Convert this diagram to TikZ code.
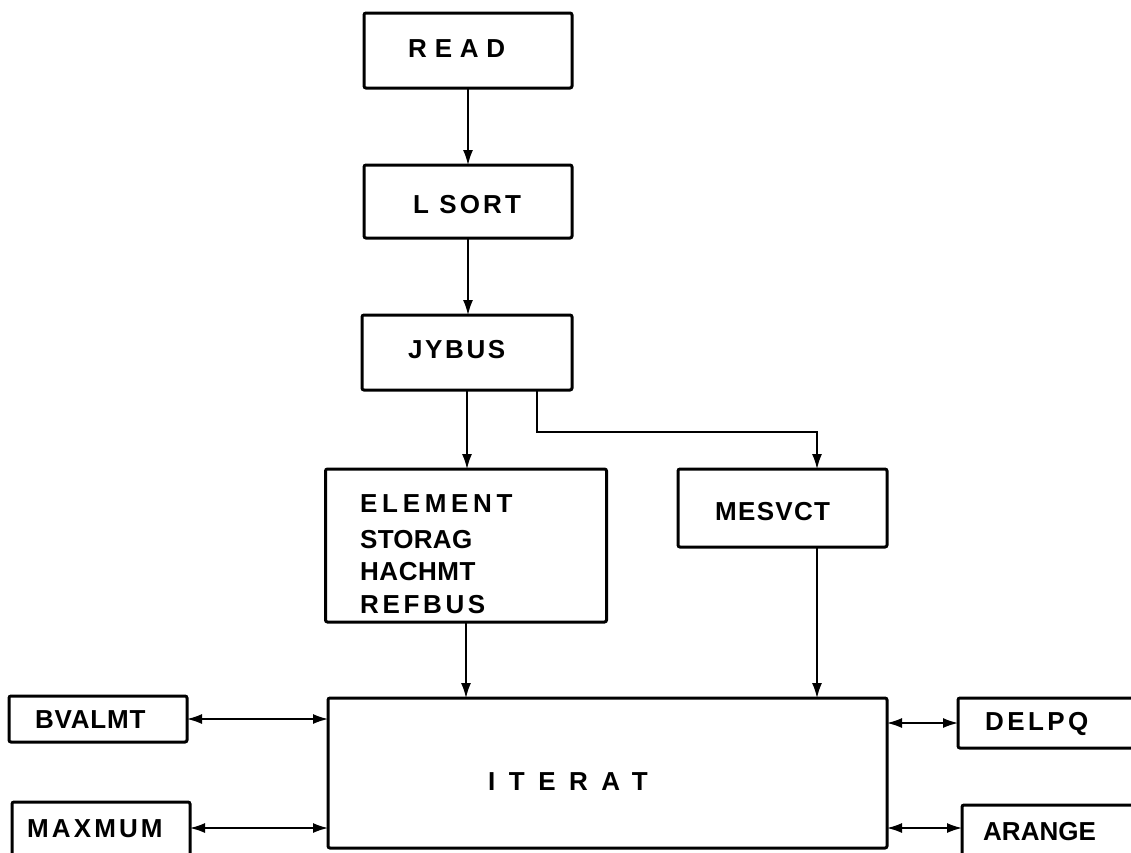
\documentclass[tikz,border=0pt]{standalone}
\usepackage{fontspec}
\newfontfamily\labfont{Liberation Sans}
\usetikzlibrary{arrows.meta}
\newcommand{\lsp}[1]{\addfontfeatures{LetterSpace=#1}}
\begin{document}
\begin{tikzpicture}[x=1pt,y=-1pt,
  boxnode/.style={draw=black, line width=3pt, rounded corners=2pt, inner sep=0pt, outer sep=0pt},
  lbl/.style={inner sep=0pt, anchor=base west, font=\labfont\bfseries\fontsize{26}{30}\selectfont},
  conn/.style={line width=1.5pt, -{Latex[length=15pt,width=10pt]}},
  dconn/.style={line width=1.5pt, {Latex[length=15pt,width=10pt]}-{Latex[length=15pt,width=10pt]}}]
\useasboundingbox (0,0) rectangle (1131,852);
\clip (0,0) rectangle (1131,852);
% boxes
\node[boxnode, minimum width=208pt, minimum height=75pt] (read) at (468,50.5) {};
\node[boxnode, minimum width=208pt, minimum height=73pt] (lsort) at (468,201.5) {};
\node[boxnode, minimum width=210pt, minimum height=75pt] (jybus) at (467,352.5) {};
\node[boxnode, minimum width=281pt, minimum height=153pt] (element) at (466,545.5) {};
\node[boxnode, minimum width=209pt, minimum height=78pt] (mesvct) at (782.5,508) {};
\node[boxnode, minimum width=559pt, minimum height=150pt] (iterat) at (607.5,773) {};
\node[boxnode, minimum width=178pt, minimum height=46pt] (bvalmt) at (98,719) {};
\node[boxnode, minimum width=178pt, minimum height=68pt] (maxmum) at (101,836) {};
\node[boxnode, minimum width=187pt, minimum height=50pt] (delpq) at (1051.5,723) {};
\node[boxnode, minimum width=183pt, minimum height=65pt] (arange) at (1053.5,837.5) {};
% labels
\node[lbl] (tread) at (408,57) {\lsp{30}READ};
\node[lbl] (tlsort) at (413,213) {\lsp{12}L SORT};
\node[lbl] (tjybus) at (408,358) {\lsp{10}JYBUS};
\node[lbl] (telem) at (360,512) {\lsp{18}ELEMENT};
\node[lbl] (tstor) at (360,548) {\lsp{1}STORAG};
\node[lbl] (thach) at (360,580) {\lsp{2}HACHMT};
\node[lbl] (tref) at (360,613) {\lsp{14}REFBUS};
\node[lbl] (tmes) at (715,520) {\lsp{5}MESVCT};
\node[lbl] (titer) at (488,790) {\lsp{52}ITERAT};
\node[lbl] (tbval) at (35,728) {\lsp{3}BVALMT};
\node[lbl] (tmax) at (27,837) {\lsp{12}MAXMUM};
\node[lbl] (tdel) at (985,730) {\lsp{13}DELPQ};
\node[lbl] (tara) at (983,840) {\lsp{0}ARANGE};
% guide coordinates
\coordinate (jx) at (537,0);
\coordinate (mx) at (817,0);
\coordinate (ry) at (0,432);
\coordinate (ly) at (0,828);
% connectors
\draw[conn] (read.south) -- (lsort.north);
\draw[conn] (lsort.south) -- (jybus.north -| lsort.south);
\draw[conn] (jybus.south) -- (element.north -| jybus.south);
\draw[conn] (jybus.south -| jx) -- (jx |- ry) -- (mx |- ry) -- (mesvct.north -| mx);
\draw[conn] (element.south) -- (iterat.north -| element.south);
\draw[conn] (mesvct.south -| mx) -- (iterat.north -| mx);
\draw[dconn] (bvalmt.east) -- (iterat.west |- bvalmt.east);
\draw[dconn] (maxmum.east |- ly) -- (iterat.west |- ly);
\draw[dconn] (iterat.east |- delpq.west) -- (delpq.west);
\draw[dconn] (iterat.east |- ly) -- (arange.west |- ly);
\end{tikzpicture}
\end{document}
